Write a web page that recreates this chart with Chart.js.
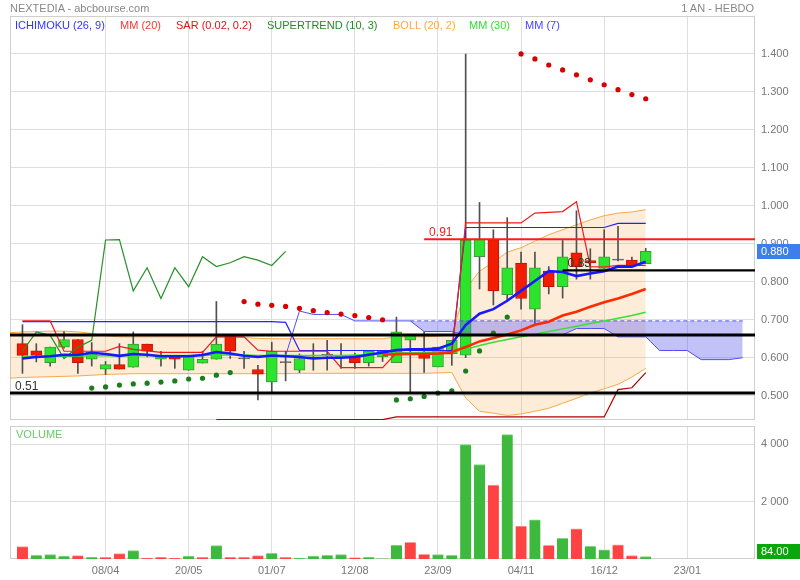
<!DOCTYPE html>
<html>
<head>
<meta charset="utf-8">
<script src="https://cdn.jsdelivr.net/npm/chart.js@4.4.1/dist/chart.umd.min.js"></script>
<style>
  body { margin: 0; background: #fff; font-family: "Liberation Sans", Arial, sans-serif; }
  #wrap { position: relative; width: 800px; height: 580px; overflow: hidden; }
  canvas { position: absolute; left: 0; }
  .t { position: absolute; font-size: 11px; line-height: 13px; white-space: nowrap; }
</style>
</head>
<body>
<div id="wrap">
  <canvas id="price" width="800" height="424" style="top:0"></canvas>
  <canvas id="vol" width="800" height="156" style="top:424px"></canvas>

  <div class="t" style="left:10px;top:2px;color:#888">NEXTEDIA - abcbourse.com</div>
  <div class="t" style="right:46px;top:2px;color:#888">1 AN - HEBDO</div>

  <div class="t" style="left:15px;top:19px;color:#3333ff">ICHIMOKU (26, 9)</div>
  <div class="t" style="left:120px;top:19px;color:#ff3333">MM (20)</div>
  <div class="t" style="left:176px;top:19px;color:#e81111">SAR (0.02, 0.2)</div>
  <div class="t" style="left:267px;top:19px;color:#228b22">SUPERTREND (10, 3)</div>
  <div class="t" style="left:393px;top:19px;color:#ffaa44">BOLL (20, 2)</div>
  <div class="t" style="left:469px;top:19px;color:#33dd33">MM (30)</div>
  <div class="t" style="left:525px;top:19px;color:#4444ff">MM (7)</div>

  <div class="t" style="left:16px;top:428px;color:#66cc66">VOLUME</div>
</div>

<script>
// weekly candles, week 0 = 25/02
var opens = [0.637,0.618,0.587,0.628,0.648,0.596,0.570,0.582,0.575,0.636,
             0.596,0.604,0.567,0.586,0.596,0.657,0.597,0.569,0.536,0.587,
             0.567,0.600,0.606,0.600,0.606,0.587,0.602,0.587,0.646,0.615,
             0.576,0.610,0.607,0.866,0.911,0.766,0.849,0.728,0.828,0.787,
             0.876,0.856,0.835,0.857,0.857,0.848];
var highs = [0.687,0.637,0.628,0.669,0.648,0.640,0.590,0.637,0.668,0.636,
             0.617,0.604,0.604,0.617,0.748,0.657,0.617,0.580,0.641,0.617,
             0.610,0.637,0.646,0.637,0.612,0.617,0.617,0.707,0.659,0.668,
             0.628,0.646,1.400,1.009,0.937,0.969,0.878,0.878,0.840,0.909,
             0.987,0.887,0.937,0.946,0.865,0.888];
var lows = [0.559,0.589,0.578,0.625,0.559,0.578,0.556,0.570,0.575,0.602,
            0.578,0.572,0.567,0.586,0.596,0.598,0.572,0.489,0.508,0.539,
            0.561,0.567,0.567,0.572,0.572,0.578,0.590,0.587,0.508,0.561,
            0.576,0.580,0.600,0.781,0.739,0.748,0.728,0.687,0.768,0.757,
            0.807,0.807,0.835,0.855,0.843,0.848];
var closes = [0.606,0.606,0.628,0.648,0.587,0.615,0.582,0.570,0.636,0.617,
              0.604,0.596,0.604,0.596,0.636,0.617,0.597,0.557,0.617,0.587,
              0.598,0.600,0.606,0.607,0.587,0.617,0.617,0.668,0.659,0.598,
              0.628,0.646,0.910,0.911,0.776,0.837,0.756,0.837,0.787,0.866,
              0.840,0.850,0.866,0.857,0.843,0.880];
var volumes = [430,126,150,105,115,60,60,185,290,25,
               60,25,105,60,465,60,60,115,195,60,
               20,105,126,150,50,60,0,480,583,164,
               150,126,3980,3290,2570,4330,1150,1360,480,720,
               1050,445,315,490,115,84];

// moving averages
var mm7 = [0.598,0.602,0.604,0.608,0.607,0.613,0.610,0.605,0.610,0.608,
           0.604,0.604,0.604,0.607,0.615,0.611,0.605,0.602,0.606,0.604,
           0.602,0.598,0.600,0.600,0.602,0.608,0.614,0.620,0.622,0.622,
           0.624,0.637,0.686,0.716,0.728,0.750,0.776,0.802,0.828,0.826,
           0.815,0.822,0.828,0.840,0.840,0.853];
var mm20From = 26;
var mm20 = [0.608,0.609,0.610,0.610,0.611,0.615,0.628,0.643,0.652,0.661,
            0.672,0.687,0.695,0.711,0.721,0.734,0.746,0.756,0.768,0.781];
var mm30 = [0.603,0.603,0.604,0.604,0.604,0.605,0.605,0.605,0.605,0.606,
            0.606,0.606,0.606,0.606,0.607,0.607,0.607,0.606,0.606,0.606,
            0.606,0.606,0.606,0.606,0.607,0.608,0.610,0.612,0.613,0.614,
            0.615,0.616,0.622,0.632,0.641,0.648,0.655,0.662,0.669,0.676,
            0.683,0.690,0.697,0.704,0.711,0.720];

// ichimoku
var tenkan = [0.697,0.697,0.697,0.617,0.617,0.617,0.617,0.630,0.622,0.618,
              0.614,0.614,0.614,0.614,0.655,0.655,0.655,0.620,0.617,0.617,
              0.617,0.617,0.617,0.574,0.574,0.574,0.574,0.613,0.613,0.612,
              0.611,0.611,0.955,0.955,0.955,0.955,0.955,0.981,0.983,0.985,
              1.011,0.840,0.839,0.843,0.843,0.843];
var kijun = [0.695,0.695,0.695,0.695,0.695,0.695,0.695,0.695,0.695,0.695,
             0.695,0.695,0.695,0.695,0.695,0.695,0.695,0.695,0.695,0.693,
             0.619,0.619,0.619,0.619,0.619,0.619,0.619,0.619,0.619,0.619,
             0.619,0.619,0.943,0.943,0.943,0.943,0.943,0.943,0.943,0.943,
             0.943,0.943,0.943,0.954,0.954,0.954];
var chikou = [0.617,0.668,0.659,0.598,0.628,0.646,0.910,0.911,0.776,0.837,
              0.756,0.837,0.787,0.866,0.840,0.850,0.866,0.857,0.843,0.880];
var senkouBFrom = 19, senkouDashFrom = 28;
var senkouB = [0.605,0.723,0.714,0.714,0.714,0.697,0.697,0.697,0.697,0.697,
               0.697,0.697,0.697,0.697,0.697,0.697,0.697,0.697,0.697,0.697,
               0.697,0.697,0.697,0.697,0.697,0.697,0.697,0.697,0.697,0.697,
               0.697,0.697,0.697,0.697];
var senkouAFrom = 28;
var senkouA = [0.697,0.669,0.669,0.669,0.660,0.660,0.660,0.660,0.660,0.660,
               0.660,0.660,0.677,0.677,0.677,0.655,0.655,0.655,0.619,0.619,
               0.619,0.595,0.595,0.595,0.600];

// bollinger (first value = week before the first candle)
var bbFrom = -1;
var bbUpper = [0.666,0.668,0.669,0.670,0.670,0.668,0.664,0.658,0.655,0.655,0.655,
               0.655,0.655,0.655,0.655,0.655,0.655,0.653,0.651,0.650,0.650,
               0.650,0.650,0.650,0.650,0.650,0.650,0.650,0.655,0.655,0.655,
               0.657,0.660,0.781,0.828,0.852,0.878,0.890,0.907,0.924,0.937,
               0.950,0.963,0.974,0.981,0.984,0.990];
var bbLower = [0.546,0.548,0.549,0.550,0.551,0.552,0.554,0.556,0.557,0.558,0.558,
               0.558,0.558,0.558,0.558,0.558,0.558,0.558,0.558,0.558,0.558,
               0.559,0.559,0.559,0.559,0.559,0.559,0.559,0.559,0.559,0.559,
               0.560,0.561,0.494,0.459,0.454,0.448,0.452,0.459,0.467,0.480,
               0.493,0.507,0.518,0.530,0.549,0.572];

// parabolic SAR (null = no dot)
var sar = [null,null,null,null,null,
           0.520,0.523,0.528,0.531,0.533,0.536,0.539,0.544,0.546,0.554,0.561,
           0.748,0.741,0.738,0.735,0.730,0.724,0.719,0.715,0.711,0.706,0.700,
           0.489,0.492,0.498,0.507,0.513,0.565,0.618,0.665,0.707,
           1.400,1.387,1.371,1.358,1.345,1.332,1.319,1.306,1.293,1.282];

// lower dark red trend line
var trendFrom = 14;
var trendLine = [0.437,0.437,0.437,0.437,0.437,0.437,0.437,0.437,0.437,0.437,
                 0.437,0.437,0.437,0.444,0.444,0.444,0.444,0.444,0.444,0.444,
                 0.444,0.444,0.444,0.444,0.444,0.444,0.444,0.444,0.444,0.516,
                 0.521,0.561];

// horizontal levels
var levelValues = [0.66, 0.507, 0.912, 0.83];
var levelFrom = [null, null, 29, 39];
var levelText = ['', '0.51', '0.91', '0.83'];

// axes
var tickWeeks = [6, 12, 18, 24, 30, 36, 42, 48];
var tickLabels = ['08/04', '20/05', '01/07', '12/08', '23/09', '04/11', '16/12', '23/01'];
var priceTicks = [0.5, 0.6, 0.7, 0.8, 0.9, 1.0, 1.1, 1.2, 1.3, 1.4];
var volumeTicks = [2000, 4000];

var X_MIN = -0.9, X_MAX = 52.89;
var P_MIN = 0.436, P_MAX = 1.5;
var V_MAX = 4630;

Chart.defaults.font.family = '"Liberation Sans", Arial, sans-serif';
Chart.defaults.font.size = 11;

var GRID = '#dedede';
var GREEN = '#2be42b', GREEN_B = '#3b9a3b', RED = '#f21c00', RED_B = '#c01400';

function pts(arr, from) {
    var out = [];
    arr.forEach(function (v, k) { if (v !== null) out.push({x: k + (from || 0), y: v}); });
    return out;
}
function line(label, data, color, width, order, extra) {
    return Object.assign({
        type: 'line', label: label, data: data, borderColor: color, borderWidth: width,
        pointRadius: 0, fill: false, tension: 0, order: order
    }, extra || {});
}
function xScale(showLabels) {
    return {
        type: 'linear', min: X_MIN, max: X_MAX, offset: false,
        grid: {color: GRID, drawTicks: false, offset: false},
        border: {display: false},
        ticks: {
            display: showLabels, color: '#777', padding: 5, autoSkip: false, maxRotation: 0,
            callback: function (v) { var k = tickWeeks.indexOf(v); return k < 0 ? '' : tickLabels[k]; }
        },
        afterBuildTicks: function (s) { s.ticks = tickWeeks.map(function (v) { return {value: v}; }); },
        afterFit: function (s) {
            s.height = showLabels ? 21 : 0;
            s.paddingLeft = 0; s.paddingRight = 0;
        }
    };
}
function yFit(s) {
    s.width = 45;
    s.paddingTop = 0; s.paddingBottom = 0;
}

var frame = {
    id: 'frame',
    beforeDatasetsDraw: function (chart) {
        var a = chart.chartArea, ctx = chart.ctx;
        ctx.save();
        ctx.strokeStyle = '#cfcfcf';
        ctx.lineWidth = 1;
        ctx.strokeRect(Math.round(a.left) + 0.5, Math.round(a.top) + 0.5,
                       Math.round(a.right - a.left) - 1, Math.round(a.bottom - a.top) - 1);
        ctx.restore();
    }
};

function valueTag(text, bg, value, axis) {
    return {
        id: 'tag' + axis,
        afterDraw: function (chart) {
            var a = chart.chartArea, ctx = chart.ctx;
            var y = chart.scales[axis].getPixelForValue(value);
            y = Math.min(y, a.bottom - 8);
            ctx.save();
            ctx.fillStyle = bg;
            ctx.fillRect(a.right + 2, Math.round(y - 7.5), chart.width - a.right - 2, 15);
            ctx.fillStyle = '#fff';
            ctx.font = '11px "Liberation Sans", Arial, sans-serif';
            ctx.textBaseline = 'middle';
            ctx.fillText(text, a.right + 6, y + 0.5);
            ctx.restore();
        }
    };
}

var levelLabels = {
    id: 'levelLabels',
    afterDatasetsDraw: function (chart) {
        var a = chart.chartArea, ctx = chart.ctx;
        ctx.save();
        ctx.font = '12px "Liberation Sans", Arial, sans-serif';
        ctx.textBaseline = 'alphabetic';
        levelValues.forEach(function (v, k) {
            if (!levelText[k]) return;
            var x = levelFrom[k] === null ? a.left : chart.scales.x.getPixelForValue(levelFrom[k]);
            var y = chart.scales.y.getPixelForValue(v);
            ctx.fillStyle = k === 2 ? '#ee2222' : '#333';
            ctx.fillText(levelText[k], x + 5, y - 3);
        });
        ctx.restore();
    }
};

var weeks = closes.map(function (_, i) { return i; });
var bodyColor = weeks.map(function (i) {
    return closes[i] > opens[i] ? GREEN : (closes[i] < opens[i] ? RED : '#555');
});
var bodyBorder = weeks.map(function (i) {
    return closes[i] > opens[i] ? GREEN_B : (closes[i] < opens[i] ? RED_B : '#555');
});

var datasets = [
    line('BOLL haut', pts(bbUpper, bbFrom), '#f7a848', 1, 20,
         {fill: '+1', backgroundColor: 'rgba(245,160,60,0.2)'}),
    line('BOLL bas', pts(bbLower, bbFrom), '#f7a848', 1, 19),
    {
        type: 'bar', label: 'mèches', order: 16, grouped: false, barThickness: 1,
        data: weeks.map(function (i) { return {x: i, y: [lows[i], highs[i]]}; }),
        backgroundColor: '#505050'
    },
    {
        type: 'bar', label: 'corps', order: 15, grouped: false, barThickness: 11, minBarLength: 1,
        data: weeks.map(function (i) { return {x: i, y: [opens[i], closes[i]]}; }),
        backgroundColor: bodyColor, borderColor: bodyBorder, borderWidth: 1, borderSkipped: false
    },
    line('Senkou B', pts(senkouB, senkouBFrom), '#4f4ff2', 1, 14, {
        segment: {borderDash: function (ctx) { return ctx.p0.parsed.x >= senkouDashFrom ? [4, 3] : undefined; }}
    }),
    line('Senkou A', pts(senkouA, senkouAFrom), '#4f4ff2', 1, 13,
         {fill: '-1', backgroundColor: 'rgba(95,95,240,0.38)'}),
    line('Chikou', pts(chikou), '#2a8f2a', 1.2, 10),
    line('Tendance', pts(trendLine, trendFrom), '#b00000', 1.2, 10),
    line('Kijun', pts(kijun), '#2222ff', 1.2, 9),
    line('Tenkan', pts(tenkan), '#ee1a1a', 1.2, 8),
    line('MM 30', pts(mm30), '#36e036', 1.5, 7),
    line('MM 20', pts(mm20, mm20From), '#ff2a00', 2.6, 6),
    line('MM 7', pts(mm7), '#1818ff', 2.6, 5),
    {
        type: 'line', label: 'SAR', order: 4, showLine: false,
        data: pts(sar),
        pointRadius: 2.6, pointBorderWidth: 0,
        pointBackgroundColor: function (ctx) {
            var p = ctx.raw; return p && p.y > closes[p.x] ? '#d80000' : '#1a7f1a';
        }
    }
];
levelValues.forEach(function (v, k) {
    var from = levelFrom[k] === null ? X_MIN : levelFrom[k];
    datasets.push(line('niveau ' + v, [{x: from, y: v}, {x: X_MAX, y: v}],
                       k === 2 ? '#ff1a1a' : '#000', k < 2 ? 3 : 2.2, 1));
});

new Chart(document.getElementById('price'), {
    type: 'line',
    data: {datasets: datasets},
    options: {
        responsive: false, animation: false, events: [],
        layout: {padding: {left: 10, top: 16, right: 0, bottom: 2}},
        plugins: {legend: {display: false}, tooltip: {enabled: false}},
        scales: {
            x: xScale(false),
            y: {
                position: 'right', min: P_MIN, max: P_MAX,
                grid: {color: GRID, drawTicks: false}, border: {display: false},
                ticks: {color: '#777', padding: 6, autoSkip: false, callback: function (v) { return v.toFixed(3); }},
                afterBuildTicks: function (s) { s.ticks = priceTicks.map(function (v) { return {value: v}; }); },
                afterFit: yFit
            }
        }
    },
    plugins: [frame, levelLabels, valueTag(closes[closes.length - 1].toFixed(3), '#3d7fea', closes[closes.length - 1], 'y')]
});

var volColor = weeks.map(function (i) {
    var prev = i ? closes[i - 1] : opens[i];
    return closes[i] >= prev ? '#3dba3d' : '#ff4242';
});
var volTop = volColor.map(function (c) { return c === '#3dba3d' ? '#85d585' : '#ff9d9d'; });

new Chart(document.getElementById('vol'), {
    type: 'bar',
    data: {
        datasets: [{
            label: 'volume', barThickness: 11,
            data: weeks.map(function (i) { return {x: i, y: volumes[i]}; }),
            backgroundColor: volColor, borderColor: volTop,
            borderWidth: {top: 1, left: 0, right: 0, bottom: 0}
        }]
    },
    options: {
        responsive: false, animation: false, events: [],
        layout: {padding: {left: 10, top: 2, right: 0, bottom: 0}},
        plugins: {legend: {display: false}, tooltip: {enabled: false}},
        scales: {
            x: xScale(true),
            y: {
                position: 'right', min: 0, max: V_MAX,
                grid: {color: GRID, drawTicks: false}, border: {display: false},
                ticks: {
                    color: '#777', padding: 6, autoSkip: false,
                    callback: function (v) { return String(v).replace(/\B(?=(\d{3})+(?!\d))/g, ' '); }
                },
                afterBuildTicks: function (s) { s.ticks = volumeTicks.map(function (v) { return {value: v}; }); },
                afterFit: yFit
            }
        }
    },
    plugins: [frame, valueTag(volumes[volumes.length - 1].toFixed(2), '#0aa70a', volumes[volumes.length - 1], 'y')]
});
</script>
</body>
</html>
